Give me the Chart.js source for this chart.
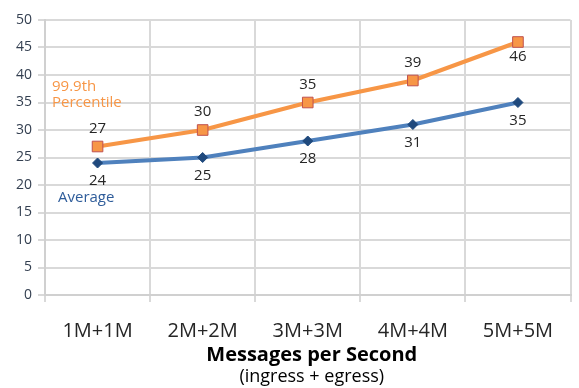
<!DOCTYPE html>
<html>
<head>
<meta charset="utf-8">
<script src="https://cdn.jsdelivr.net/npm/chart.js@4.4.1/dist/chart.umd.min.js"></script>
<style>
  html, body { margin: 0; padding: 0; background: #fff; }
  #wrap { width: 579px; height: 388px; }
</style>
</head>
<body>
<div id="wrap"><canvas id="chart" width="579" height="388"></canvas></div>
<script>
const categories = ['1M+1M', '2M+2M', '3M+3M', '4M+4M', '5M+5M'];
const percentile999 = [27, 30, 35, 39, 46];
const average = [24, 25, 28, 31, 35];
const yTicks = [0, 5, 10, 15, 20, 25, 30, 35, 40, 45, 50];

const FONT = '"Open Sans", "DejaVu Sans", sans-serif';

// value labels next to each point, in-plot series names and the axis title lines
const labelPlugin = {
    id: 'labels',
    afterDatasetsDraw(chart) {
        const ctx = chart.ctx;
        ctx.save();
        ctx.font = '15px ' + FONT;
        ctx.fillStyle = '#262626';
        ctx.textAlign = 'center';
        ctx.textBaseline = 'middle';
        chart.data.datasets.forEach((ds, di) => {
            chart.getDatasetMeta(di).data.forEach((pt, i) => {
                let dy = 18;
                if (di === 0) dy = (i === ds.data.length - 1) ? 15 : -18;
                ctx.fillText(String(ds.data[i]), pt.x, pt.y + dy);
            });
        });

        const area = chart.chartArea;
        ctx.textAlign = 'left';
        ctx.font = '15px ' + FONT;
        ctx.fillStyle = '#F79646';
        ctx.fillText('99.9th', area.left + 7, 87);
        ctx.fillText('Percentile', area.left + 7, 103);
        ctx.fillStyle = '#2E5C9A';
        ctx.fillText('Average', area.left + 13, 198);

        const cx = (area.left + area.right) / 2 + 4;
        ctx.textAlign = 'center';
        ctx.fillStyle = '#000';
        ctx.font = 'bold 20px ' + FONT;
        ctx.fillText('Messages per Second', cx, 355);
        ctx.font = '18px ' + FONT;
        ctx.fillText('(ingress + egress)', cx, 377);
        ctx.restore();
    }
};

new Chart(document.getElementById('chart'), {
    type: 'line',
    data: {
        labels: categories,
        datasets: [
            {
                label: '99.9th Percentile',
                data: percentile999,
                borderColor: '#F79646',
                borderWidth: 4,
                pointStyle: 'rect',
                pointRadius: 7.5,
                pointBackgroundColor: '#F79646',
                pointBorderColor: '#C0504D',
                pointBorderWidth: 1
            },
            {
                label: 'Average',
                data: average,
                borderColor: '#4F81BD',
                borderWidth: 4,
                pointStyle: 'rectRot',
                pointRadius: 5,
                pointBackgroundColor: '#1F497D',
                pointBorderColor: '#1F497D',
                pointBorderWidth: 1
            }
        ]
    },
    options: {
        responsive: false,
        animation: false,
        layout: { padding: { top: 20, right: 2, left: 0, bottom: 23 } },
        plugins: {
            legend: { display: false },
            tooltip: { enabled: false }
        },
        scales: {
            x: {
                offset: true,
                grid: {
                    offset: true,
                    color: '#D9D9D9',
                    lineWidth: 2,
                    tickLength: 7
                },
                border: { color: '#D0D0D0', width: 2 },
                ticks: {
                    color: '#262626',
                    font: { family: FONT, size: 20 },
                    padding: 17,
                    maxRotation: 0
                },
                afterFit(scale) { scale.height = 70; }
            },
            y: {
                min: 0,
                max: 50,
                afterBuildTicks(scale) {
                    scale.ticks = yTicks.map(v => ({ value: v }));
                },
                grid: {
                    color: '#D9D9D9',
                    lineWidth: 2,
                    tickLength: 7
                },
                border: { color: '#D0D0D0', width: 2 },
                ticks: {
                    color: '#333F50',
                    font: { family: FONT, size: 14 },
                    padding: 6
                },
                afterFit(scale) { scale.width = 45; }
            }
        }
    },
    plugins: [labelPlugin]
});
</script>
</body>
</html>
